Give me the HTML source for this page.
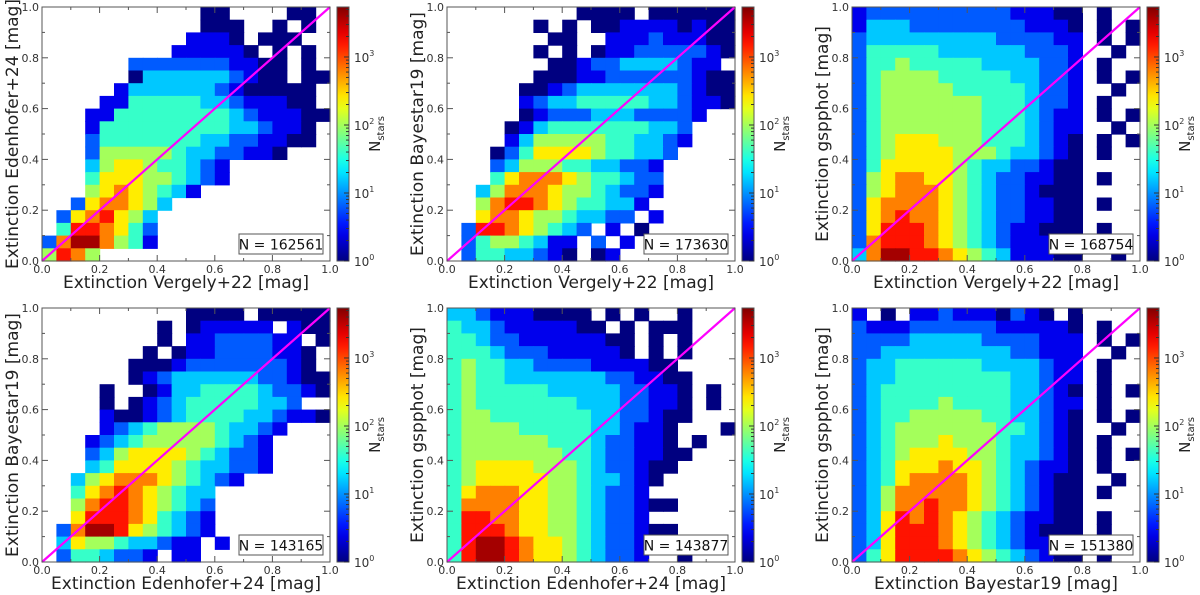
<!DOCTYPE html>
<html><head><meta charset="utf-8">
<style>
html,body{margin:0;padding:0;background:#fff;width:1200px;height:595px;overflow:hidden}
svg{display:block;font-family:"DejaVu Sans","Liberation Sans",sans-serif}
</style></head>
<body>
<svg id="fig" width="1200" height="595" viewBox="0 0 1200 595" xmlns="http://www.w3.org/2000/svg"></svg>
<script>
// ---- data ----
const xLabels = ["Extinction Vergely+22 [mag]","Extinction Vergely+22 [mag]","Extinction Vergely+22 [mag]","Extinction Edenhofer+24 [mag]","Extinction Edenhofer+24 [mag]","Extinction Bayestar19 [mag]"];
const yLabels = ["Extinction Edenhofer+24 [mag]","Extinction Bayestar19 [mag]","Extinction gspphot [mag]","Extinction Bayestar19 [mag]","Extinction gspphot [mag]","Extinction gspphot [mag]"];
const nStars = ["N = 162561","N = 173630","N = 168754","N = 143165","N = 143877","N = 151380"];
const tickVals = [0,0.2,0.4,0.6,0.8,1.0];
const tickLabels = ["0.0","0.2","0.4","0.6","0.8","1.0"];
const cbarTicks = [0,1,2,3];
// grid levels: rows from top (y=1) to bottom (y=0); '.' empty; level L -> log10(N)=0.4*L
const grid1 = [
"...........00....00.","...........000..0.0.","..........1110.000..",".........111110.0.0.",
"......22222221100.0.","......03333332100.00",".....13333332100000.","....114444433211100.",
"...11444444443211100","...1444444444332110.","...2444444433221100.","...25555543322110...",
"...3566544321.......","...4666554321.......","...56765431.........","..2677653...........",
".2678653............",".4887642............","27997541............","5875................"];
const grid2 = [
".........0000.000000","......0.0.0011110100",".......00..111211100","......0.0.0112222210",
".......001223333211.","......00011222222100",".....001233333332100",".....123344444332110",
".....0122233322221..","....0134444444332...","....1355555443321...","...0246666544332....",
"...235554433221.....","...467776544322.....","..3577765543221.....","..578876544331......",
"..67765543322.1.....",".288765432.1.0......",".24554311.2.1.......",".24433210.01........"];
const grid3 = [
"1222222222211100.0..","1333222222221110.0.0","2333333333222211.0.0","2444443333332221..0.",
"2445444443333221.0..","2455554444433221.0.0","2455555444443221..0.","2455555554443221.0..",
"2455555554443211.0.0","2455555554443211..0.","2456665554443210.0.0","2456666555433210.0..",
"2466666543322100....","2567766543221100.0..","2567776543221000....","2677776543221100.0..",
"2678776543221100....","2688876543211000.0..","2788876543211100.0..","3799887654311100..0."];
const grid4 = [
"..........0000.00000","........0.011111.100","........0.11222211.0",".......0.0112222110.",
"......0001222222210.","......01233333322100","....0..0133444432210","....0.012344444332..",
"....1001234444332110","....1234555543321...","...1234555554321....","...2356666543221....",
"...3466665433221....","..356777654321......","..4678765433........","..5788765432........",
"..6888764321........",".27998654321........",".3655433211.1.......",".2443221.11........."];
const grid5 = [
"3321110000.0.0..0...","43321111100.0.000...","4432211111100.0.0...","4443222111110.0.0...",
"4544332222111100....","45443333333221100...","45444443333322110.0.","45444444433322110.0.",
"45544444443322100...","4555544444332110...0","4555555444322110.0..","45555555443221100...",
"4566665554322100....","456666655433210.....","46777665543221......","4777766554322100....",
"48877665543221......","4888766554322100....","4899876654322100....","48998766543221..0..."];
const grid6 = [
"1.0.1121110210.0....","2111222222111110.0..","2222333332222111.0.0","2233333333322111..0.",
"2334444443333211.0..","2334444444433211.0..","2344444444433210.0.0","2344445444433211.0..",
"2344555554433210.0.0","2345555555443210..0.","2345556555433210.0..","2345666655433210.0.0",
"2346667665432110.0..","2346777765432100..0.","2357777765432100.0..","2357787765432100....",
"2368787654321100.0..","2368887654321000.0..","2368887654321100..0.","2468888765432100.0.."];
const grids = [grid1,grid2,grid3,grid4,grid5,grid6];
const logMax = 3.735;

// ---- layout ----
const colX = [42,447,852], rowY = [7,308], PW = 288, PH = 254;
const NS = "http://www.w3.org/2000/svg";
const svg = document.getElementById('fig');
function mk(tag, attrs, parent){const e=document.createElementNS(NS,tag);for(const k in attrs)e.setAttribute(k,attrs[k]);(parent||svg).appendChild(e);return e;}
function jet(t){t=Math.max(0,Math.min(1,t));const c=v=>Math.round(255*Math.max(0,Math.min(1,v)));
  return `rgb(${c(1.5-Math.abs(4*t-3))},${c(1.5-Math.abs(4*t-2))},${c(1.5-Math.abs(4*t-1))})`;}
const defs = mk('defs',{});
const lg = mk('linearGradient',{id:'jetg',x1:0,y1:1,x2:0,y2:0},defs);
for(let i=0;i<=20;i++){mk('stop',{offset:(i/20),'stop-color':jet(i/20)},lg);}

for(let p=0;p<6;p++){
  const x0 = colX[p%3], y0 = rowY[Math.floor(p/3)];
  const X = v => x0 + v*PW, Y = v => y0 + PH - v*PH;
  const g = mk('g',{});
  
  
  const grid = grids[p];
  const nr = grid.length;
  const hm = mk('g',{},g);
  
  
  for(let i=0;i<nr;i++){
    const row = grid[i], nc = row.length;
    for(let j=0;j<nc;j++){
      const ch=row[j]; if(ch==='.') continue;
      const L=+ch; const yt=1-i/nr;
      const r = mk('rect',{x:X(j/nc).toFixed(2),y:Y(yt).toFixed(2),width:(PW/nc+0.6).toFixed(2),height:(PH/nr+0.6).toFixed(2),fill:jet(L*0.4/logMax)},hm);
      
      
    }
  }
  const ln = mk('line',{x1:X(0),y1:Y(0),x2:X(1),y2:Y(1),stroke:'#f0f',"stroke-width":2.2},g);
  
  
  mk('rect',{x:x0,y:y0,width:PW,height:PH,fill:'none',stroke:'#555','stroke-width':1},g);
  for(let k=0;k<=10;k++){
    const v=k/10, len = k%2===0?6:3;
    mk('line',{x1:X(v),y1:y0+PH,x2:X(v),y2:y0+PH-len,stroke:'#555'},g);
    mk('line',{x1:X(v),y1:y0,x2:X(v),y2:y0+len,stroke:'#555'},g);
    mk('line',{x1:x0,y1:Y(v),x2:x0+len,y2:Y(v),stroke:'#555'},g);
    mk('line',{x1:x0+PW,y1:Y(v),x2:x0+PW-len,y2:Y(v),stroke:'#555'},g);
  }
  tickVals.forEach((v,k)=>{
    const tx = mk('text',{x:X(v),y:y0+PH+12,'font-size':11,'text-anchor':'middle',fill:'#333'},g);
    tx.textContent=tickLabels[k];
    
    
    const ty = mk('text',{x:x0-3,y:Y(v)+4,'font-size':11,'text-anchor':'end',fill:'#333'},g);
    ty.textContent=tickLabels[k];
    
    
  });
  const xl = mk('text',{x:x0+PW/2,y:y0+PH+27,'font-size':17,'text-anchor':'middle',fill:'#222'},g);
  xl.textContent=xLabels[p];
  
  
  const yl = mk('text',{x:0,y:0,'font-size':17,'text-anchor':'middle',fill:'#222',transform:`translate(${x0-24},${y0+PH/2}) rotate(-90)`},g);
  yl.textContent=yLabels[p];
  
  
  const bx = mk('rect',{x:x0+PW-91,y:y0+PH-27,width:84,height:20,fill:'#fff',stroke:'#555'},g);
  
  
  const nt = mk('text',{x:x0+PW-49,y:y0+PH-11.5,'font-size':14,'text-anchor':'middle',fill:'#111'},g);
  nt.textContent=nStars[p];
  
  
  const cx = x0+PW+7;
  const cb = mk('rect',{x:cx,y:y0,width:12,height:PH,fill:'url(#jetg)',stroke:'#555'},g);
  
  
  const CY = l => y0+PH - l/logMax*PH;
  for(let d=0;d<4;d++){for(let m=1;m<10;m++){const l=d+Math.log10(m); if(l>logMax)break;
    const len=m===1?5:3; mk('line',{x1:cx+12-len,y1:CY(l),x2:cx+12,y2:CY(l),stroke:'#333'},g);}}
  cbarTicks.forEach(d=>{
    const t = mk('text',{x:cx+17,y:CY(d)+5,'font-size':12,fill:'#333'},g);
    t.innerHTML = `10<tspan font-size="8" dy="-6">${d}</tspan>`;
    
    
  });
  const cl = mk('text',{x:0,y:0,'font-size':15,'text-anchor':'middle',fill:'#222',transform:`translate(${cx+43},${y0+PH/2}) rotate(-90)`},g);
  cl.innerHTML = 'N<tspan font-size="10" dy="4">stars</tspan>';
  
  
}
</script>
</body></html>
